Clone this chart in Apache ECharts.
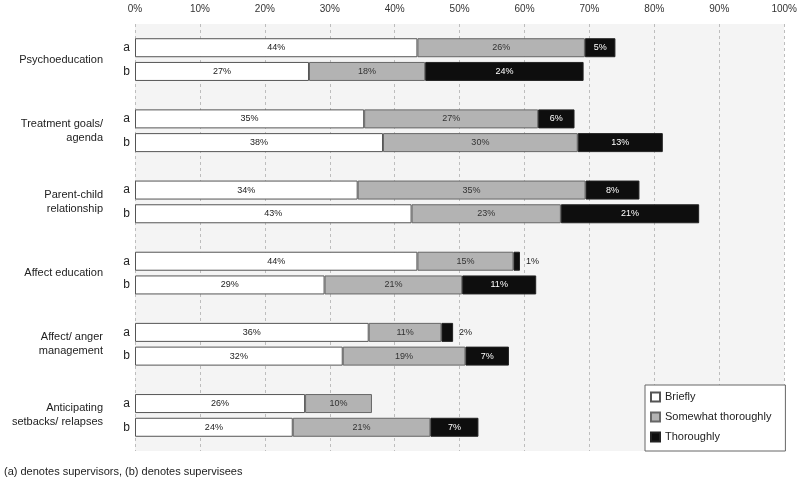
<!DOCTYPE html>
<html>
<head>
<meta charset="utf-8">
<script src="https://cdn.jsdelivr.net/npm/echarts@6/dist/echarts.min.js"></script>
<style>html,body{margin:0;padding:0;background:#fff}#c{width:800px;height:484px}</style>
</head>
<body>
<div id="c"></div>
<script>
const groups = ['Psychoeducation', 'Treatment goals/\nagenda', 'Parent-child\nrelationship', 'Affect education', 'Affect/ anger\nmanagement', 'Anticipating\nsetbacks/ relapses'];
const rows = ['a', 'b'];
// order: group1 a, group1 b, group2 a, ...
const briefly = [43.5, 26.8, 35.3, 38.2, 34.3, 42.6, 43.5, 29.2, 36.0, 32.0, 26.2, 24.3];
const somewhat = [25.8, 17.9, 26.8, 30.0, 35.1, 23.0, 14.8, 21.2, 11.2, 18.9, 10.3, 21.2];
const thoroughly = [4.7, 24.4, 5.6, 13.1, 8.3, 21.3, 1.0, 11.4, 1.8, 6.7, 0, 7.4];
const xTicks = [0, 10, 20, 30, 40, 50, 60, 70, 80, 90, 100];
const seriesNames = ['Briefly', 'Somewhat thoroughly', 'Thoroughly'];
const footnote = '(a) denotes supervisors, (b) denotes supervisees';

const FONT = 'Liberation Sans, Arial, sans-serif';
const NARROW = '"Liberation Sans Narrow", "Arial Narrow", Liberation Sans, Arial, sans-serif';

// category slots: blank, a, b, blank, a, b, ..., a, b, blank
const slots = ['g0'];
groups.forEach((g, i) => { slots.push('a' + i, 'b' + i, 'g' + (i + 1)); });
function expand(arr) {
  const out = ['-'];
  for (let i = 0; i < groups.length; i++) {
    out.push(arr[2 * i] ? arr[2 * i] : '-', arr[2 * i + 1] ? arr[2 * i + 1] : '-', '-');
  }
  return out;
}

function mkSeries(name, vals, color, labelColor, border) {
  return {
    name: name, type: 'bar', stack: 'total', xAxisIndex: 0, yAxisIndex: 0,
    barWidth: 19,
    itemStyle: { color: color, borderColor: border, borderWidth: 1 },
    label: {
      show: true, position: 'inside', color: labelColor, fontFamily: NARROW, fontSize: 9,
      formatter: p => Math.round(p.value) + '%'
    },
    data: expand(vals).map(v => {
      if (v === '-') return '-';
      if (name === 'Thoroughly' && v < 3) {
        return { value: v, label: { position: 'right', color: '#222', distance: 6 } };
      }
      return v;
    })
  };
}

const chart = echarts.init(document.getElementById('c'), null, { renderer: 'canvas' });
chart.setOption({
  animation: false,
  backgroundColor: '#fff',
  grid: { left: 135, right: 14.5, top: 24, bottom: 33, show: true, backgroundColor: '#f4f4f4', borderWidth: 0 },
  xAxis: {
    type: 'value', position: 'top', min: 0, max: 100, interval: 10,
    axisLine: { show: false }, axisTick: { show: false },
    axisLabel: { formatter: v => (xTicks.indexOf(v) >= 0 ? v + '%' : ''), margin: 10, color: '#333', fontFamily: NARROW, fontSize: 10 },
    splitLine: { show: true, lineStyle: { type: [3, 3], color: '#bdbdbd', width: 1 } }
  },
  yAxis: [{
    type: 'category', inverse: true, boundaryGap: false, data: slots,
    axisLine: { show: false }, axisTick: { show: false }, splitLine: { show: false },
    axisLabel: { interval: 0, margin: 5, color: '#222', fontFamily: FONT, fontSize: 12,
      formatter: v => (v[0] === 'g' ? '' : rows[v[0] === 'a' ? 0 : 1]) }
  }, {
    type: 'category', inverse: true, data: groups, position: 'left',
    axisLine: { show: false }, axisTick: { show: false }, splitLine: { show: false },
    axisLabel: { interval: 0, margin: 32, align: 'right', color: '#222', fontFamily: FONT, fontSize: 11, lineHeight: 14 }
  }],
  legend: {
    data: seriesNames, orient: 'vertical', left: 645, top: 385, icon: 'rect',
    itemWidth: 9, itemHeight: 9, itemGap: 8,
    backgroundColor: '#fff', borderColor: '#666', borderWidth: 1, borderRadius: 0,
    padding: [6, 14, 8, 5],
    textStyle: { fontFamily: FONT, fontSize: 11, color: '#222', lineHeight: 12 }
  },
  graphic: [{
    type: 'text', left: 4, top: 466,
    style: { text: footnote, fontFamily: FONT, fontSize: 11, fill: '#222' }
  }],
  series: [
    mkSeries(seriesNames[0], briefly, '#ffffff', '#222', '#555'),
    mkSeries(seriesNames[1], somewhat, '#b3b3b3', '#333', '#666'),
    mkSeries(seriesNames[2], thoroughly, '#0e0e0e', '#fff', '#222')
  ]
});
</script>
</body>
</html>
